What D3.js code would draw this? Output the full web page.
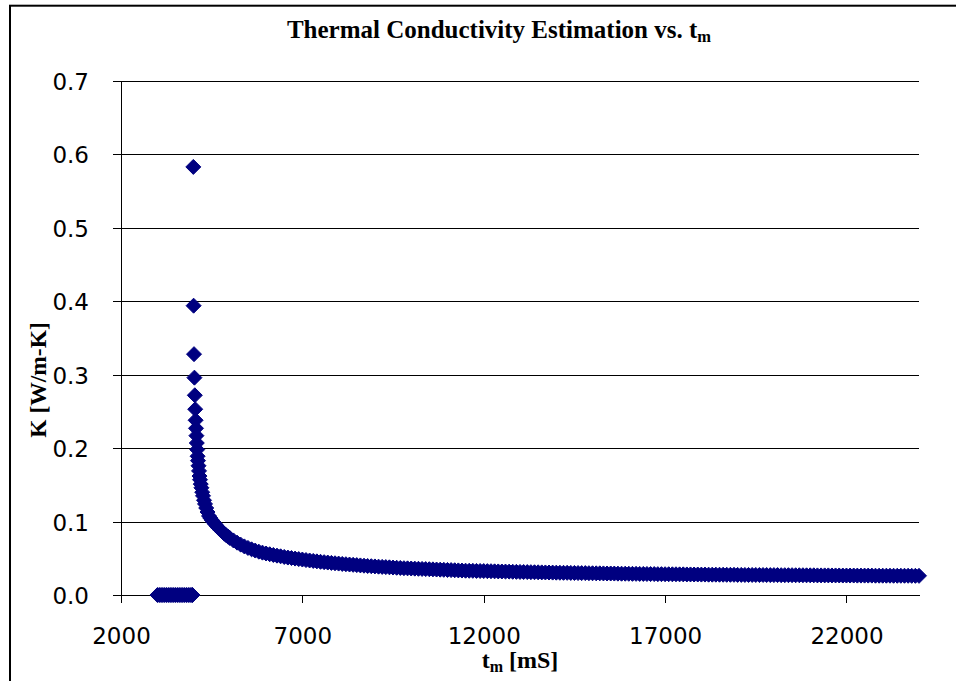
<!DOCTYPE html>
<html><head><meta charset="utf-8">
<script src="https://cdn.jsdelivr.net/npm/d3@7"></script>
<style>
html,body{margin:0;padding:0;background:#fff;}
svg{display:block;}
</style></head><body>
<svg id="chart" width="956" height="681"></svg>
<script>
// ---------- data ----------
const xTicks = [2000, 7000, 12000, 17000, 22000];
const yTicks = [0, 0.1, 0.2, 0.3, 0.4, 0.5, 0.6, 0.7];

// points sitting at K = 0 before the estimate starts
const tZero = [3005,3055,3105,3155,3205,3255,3305,3355,3405,3455,3505,3555,3605,3655,3705,3755,3805,3855,3905,3955,3972];
const kZero = [0,0,0,0,0,0,0,0,0,0,0,0,0,0,0,0,0,0,0,0,0];

// estimated conductivity curve
const tCurve = [
 3994,4002,4013,4024,4035,4046,4057,4068,4079,4090,
 4101,4112,4123,4137,4151,4165,4178,4198,4217,4239,
 4261,4289,4316,4349,4385,4427,4463,4500,4550,4600,
 4650,4700,4750,4800,4850,4900,4950,5000,5100,5200,
 5300,5400,5500,5600,5700,5800,5900,6000,
 6100,6200,6300,6400,6500,6600,6700,6800,6900,7000,
 7100,7200,7300,7400,7500,7600,7700,7800,7900,8000,
 8100,8200,8300,8400,8500,8600,8700,8800,8900,9000,
 9100,9200,9300,9400,9500,9600,9700,9800,9900,10000,
 10100,10200,10300,10400,10500,10600,10700,10800,10900,11000,
 11100,11200,11300,11400,11500,11600,11700,11800,11900,12000,
 12100,12200,12300,12400,12500,12600,12700,12800,12900,13000,
 13100,13200,13300,13400,13500,13600,13700,13800,13900,14000,
 14100,14200,14300,14400,14500,14600,14700,14800,14900,15000,
 15100,15200,15300,15400,15500,15600,15700,15800,15900,16000,
 16100,16200,16300,16400,16500,16600,16700,16800,16900,17000,
 17100,17200,17300,17400,17500,17600,17700,17800,17900,18000,
 18100,18200,18300,18400,18500,18600,18700,18800,18900,19000,
 19100,19200,19300,19400,19500,19600,19700,19800,19900,20000,
 20100,20200,20300,20400,20500,20600,20700,20800,20900,21000,
 21100,21200,21300,21400,21500,21600,21700,21800,21900,22000,
 22100,22200,22300,22400,22500,22600,22700,22800,22900,23000,
 23100,23200,23300,23400,23500,23600,23700,23800,23900,24000
];
const kCurve = [
 0.583,0.394,0.328,0.296,0.272,0.253,0.238,0.227,0.217,0.207,
 0.198,0.189,0.183,0.176,0.169,0.162,0.157,0.151,0.146,0.140,
 0.135,0.129,0.124,0.1185,0.113,0.1076,0.1048,0.1022,0.0991,0.0962,
 0.0934,0.0907,0.0881,0.0857,0.0835,0.0814,0.0795,0.0776,0.0743,0.0713,
 0.0686,0.0662,0.0641,0.0622,0.0605,0.0590,0.0577,0.0565,
 0.0555,0.0545,0.0536,0.0527,0.0518,0.0510,0.0503,0.0496,0.0489,0.0483,
 0.0476,0.0470,0.0464,0.0458,0.0452,0.0447,0.0442,0.0437,0.0432,0.0428,
 0.0423,0.0419,0.0415,0.0411,0.0407,0.0403,0.0399,0.0395,0.0392,0.0389,
 0.0386,0.0383,0.0380,0.0377,0.0374,0.0371,0.0368,0.0365,0.0363,0.0361,
 0.0359,0.0357,0.0355,0.0353,0.0351,0.0349,0.0347,0.0345,0.0343,0.0341,
 0.0339,0.0337,0.0335,0.0333,0.0331,0.0330,0.0329,0.0328,0.0327,0.0326,
 0.0325,0.0324,0.0322,0.0321,0.0320,0.0319,0.0318,0.0316,0.0315,0.0314,
 0.0313,0.0312,0.0311,0.0310,0.0309,0.0308,0.0307,0.0306,0.0305,0.0304,
 0.0303,0.0302,0.0302,0.0301,0.0300,0.0299,0.0298,0.0298,0.0297,0.0296,
 0.0295,0.0295,0.0294,0.0293,0.0293,0.0292,0.0291,0.0290,0.0290,0.0289,
 0.0288,0.0288,0.0287,0.0287,0.0286,0.0285,0.0285,0.0284,0.0284,0.0283,
 0.0283,0.0282,0.0282,0.0281,0.0281,0.0280,0.0280,0.0279,0.0279,0.0278,
 0.0278,0.0277,0.0277,0.0277,0.0276,0.0276,0.0275,0.0275,0.0275,0.0274,
 0.0274,0.0273,0.0273,0.0273,0.0273,0.0272,0.0272,0.0272,0.0271,0.0271,
 0.0271,0.0270,0.0270,0.0270,0.0270,0.0269,0.0269,0.0269,0.0268,0.0268,
 0.0268,0.0267,0.0267,0.0267,0.0267,0.0266,0.0266,0.0266,0.0265,0.0265,
 0.0265,0.0265,0.0264,0.0264,0.0264,0.0264,0.0264,0.0263,0.0263,0.0263,
 0.0263,0.0263,0.0262,0.0262,0.0262,0.0262,0.0262,0.0261,0.0261,0.0261
];

// ---------- drawing ----------
const svg = d3.select("#chart");
const plot = {left: 121, right: 919, top: 81, bottom: 595};
const x = d3.scaleLinear().domain([2000, 24000]).range([plot.left, plot.right]);
const y = d3.scaleLinear().domain([0, 0.7]).range([plot.bottom, plot.top]);

const tickFont = "'DejaVu Sans', Verdana, sans-serif";
const serif = "'Liberation Serif', 'Times New Roman', serif";
const navy = "#000080";

// chart frame (extends past the photographed area)
svg.append("rect")
  .attr("x", 10).attr("y", 5.7).attr("width", 1000).attr("height", 1000)
  .attr("fill", "#fff").attr("stroke", "#000").attr("stroke-width", 2);

// horizontal gridlines
svg.append("g").selectAll("line").data(yTicks).join("line")
  .attr("x1", plot.left).attr("x2", plot.right)
  .attr("y1", d => Math.round(y(d)) + 0.5).attr("y2", d => Math.round(y(d)) + 0.5)
  .attr("stroke", "#000").attr("stroke-width", 1)
  .attr("shape-rendering", "crispEdges");

// y axis
const yAxis = svg.append("g").attr("transform", `translate(${plot.left},0)`)
  .call(d3.axisLeft(y).tickValues(yTicks).tickFormat(d3.format(".1f"))
        .tickSize(8).tickSizeOuter(0).tickPadding(24));
yAxis.selectAll("path,line").attr("stroke", "#000").attr("shape-rendering", "crispEdges");
yAxis.selectAll("text").attr("font-family", tickFont).attr("font-size", 23)
  .attr("fill", "#000").attr("dy", "0.37em");

// x axis
const xAxis = svg.append("g").attr("transform", `translate(0,${plot.bottom})`)
  .call(d3.axisBottom(x).tickValues(xTicks).tickFormat(d3.format("d"))
        .tickSize(8).tickSizeOuter(0));
xAxis.selectAll("path,line").attr("stroke", "#000").attr("shape-rendering", "crispEdges");
xAxis.selectAll("text").attr("font-family", tickFont).attr("font-size", 23)
  .attr("fill", "#000").attr("dy", null).attr("y", 49);

// markers
const diamond = "M0,-7.5L7.5,0L0,7.5L-7.5,0Z";
const zeroPts = tZero.map((t, i) => ({t, k: kZero[i]}));
const curvePts = tCurve.map((t, i) => ({t, k: kCurve[i]}));
const pts = zeroPts.concat(curvePts);
svg.append("g").selectAll("path").data(pts).join("path")
  .attr("d", diamond)
  .attr("transform", d => `translate(${x(d.t)},${y(d.k)})`)
  .attr("fill", navy).attr("stroke", navy).attr("stroke-width", 1);

// chart title
const title = svg.append("text")
  .attr("x", 499).attr("y", 37.5).attr("text-anchor", "middle")
  .attr("font-family", serif).attr("font-weight", "bold").attr("font-size", 25)
  .attr("fill", "#000");
title.append("tspan").text("Thermal Conductivity Estimation vs. t");
title.append("tspan").attr("font-size", 16.5).attr("dy", 4).text("m");

// x axis title
const xt = svg.append("text")
  .attr("x", (plot.left + plot.right) / 2).attr("y", 668).attr("text-anchor", "middle")
  .attr("font-family", serif).attr("font-weight", "bold").attr("font-size", 24)
  .attr("fill", "#000");
xt.append("tspan").text("t");
xt.append("tspan").attr("font-size", 16).attr("dy", 4).text("m");
xt.append("tspan").attr("dy", -4).text(" [mS]");

// y axis title
svg.append("text")
  .attr("transform", "translate(46,380) rotate(-90)")
  .attr("text-anchor", "middle")
  .attr("font-family", serif).attr("font-weight", "bold").attr("font-size", 23.5)
  .attr("fill", "#000")
  .text("K [W/m-K]");
</script>
</body></html>
